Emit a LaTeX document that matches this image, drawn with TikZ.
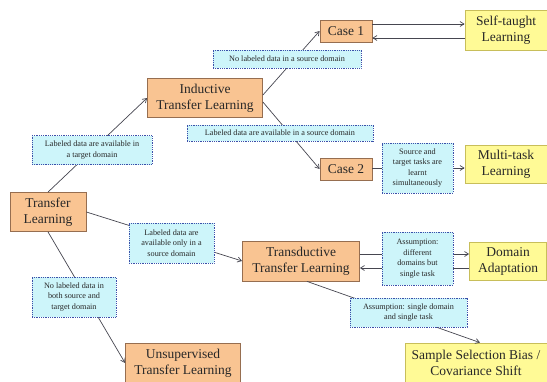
\documentclass[tikz,border=0pt]{standalone}
\usepackage{fontspec}
\setmainfont{Liberation Serif}
\usetikzlibrary{arrows.meta}
\definecolor{orbox}{RGB}{249,196,146}
\definecolor{orline}{RGB}{150,110,80}
\definecolor{yebox}{RGB}{255,250,150}
\definecolor{yeline}{RGB}{200,190,90}
\definecolor{cybox}{RGB}{205,245,250}
\definecolor{cyline}{RGB}{60,80,170}
\definecolor{txt}{RGB}{40,40,40}
\definecolor{edge}{RGB}{70,70,80}
\tikzset{
  mainbox/.style={draw=orline, fill=orbox, line width=0.8pt, inner sep=0pt, align=center,
    text=txt, font=\fontsize{13.5}{16}\selectfont},
  ybox/.style={draw=yeline, fill=yebox, line width=0.8pt, inner sep=0pt, align=center,
    text=txt, font=\fontsize{13.5}{16}\selectfont},
  lbl/.style={draw=cyline, densely dotted, fill=cybox, line width=0.8pt, inner sep=0pt, align=center,
    text=txt, font=\fontsize{8.2}{10.5}\selectfont},
  conn/.style={draw=edge, line width=0.7pt, -{Straight Barb[length=4pt,width=5pt]}}
}
\begin{document}
\begin{tikzpicture}[x=1pt,y=-1pt]
\useasboundingbox (0,0) rectangle (547,381);
% main nodes
\node[mainbox, minimum width=76pt, minimum height=39pt] (tl) at (48,212) {Transfer\\Learning};
\node[mainbox, minimum width=115pt, minimum height=39pt] (ind) at (205,98) {Inductive\\Transfer Learning};
\node[mainbox, minimum width=52pt, minimum height=22pt] (c1) at (346,31) {Case 1};
\node[mainbox, minimum width=52pt, minimum height=22pt] (c2) at (346,169) {Case 2};
\node[ybox, minimum width=82pt, minimum height=40pt] (st) at (506,30) {Self-taught\\Learning};
\node[ybox, minimum width=82pt, minimum height=38pt] (mt) at (506,164) {Multi-task\\Learning};
\node[mainbox, minimum width=117pt, minimum height=40pt] (tr) at (301,261) {Transductive\\Transfer Learning};
\node[ybox, minimum width=77pt, minimum height=38pt] (da) at (508,261) {Domain\\Adaptation};
\node[ybox, minimum width=142pt, minimum height=40pt] (ss) at (476,363) {Sample Selection Bias /\\Covariance Shift};
\node[mainbox, minimum width=115pt, minimum height=40pt] (un) at (183,363) {Unsupervised\\Transfer Learning};
% connectors
\draw[conn] (tl.north) -- (ind.west);
\draw[conn] (ind.east |- 0,95) -- (c1.west);
\draw[conn] (ind.east |- 0,102) -- (c2.west);
\draw[conn] (c1.east |- 0,24) -- (st.west |- 0,24);
\draw[conn] (st.west |- 0,38) -- (c1.east |- 0,38);
\draw[conn] (c2.east |- 0,168) -- (mt.west |- 0,168);
\draw[conn] (tl.east) -- (tr.west);
\draw[conn] (tl.south) -- (un.west);
\draw[conn] (tr.east |- 0,254) -- (da.west |- 0,254);
\draw[conn] (da.west |- 0,268) -- (tr.east |- 0,268);
\draw[conn] ([xshift=6pt]tr.south) -- ([xshift=4pt]ss.north);
% labels
\node[lbl, minimum width=120pt, minimum height=29pt] (l1) at (92,150) {Labeled data are available in\\a target domain};
\node[lbl, minimum width=148pt, minimum height=18pt] (l2) at (287,59) {No labeled data in a source domain};
\node[lbl, minimum width=186pt, minimum height=16pt] (l3) at (280,133) {Labeled data are available in a source domain};
\node[lbl, minimum width=71pt, minimum height=50pt] (l4) at (417.5,168) {Source and\\target tasks are\\learnt\\simultaneously};
\node[lbl, minimum width=85pt, minimum height=40pt] (l5) at (171.5,243) {Labeled data are\\available only in a\\source domain};
\node[lbl, minimum width=84pt, minimum height=40pt] (l6) at (74,297) {No labeled data in\\both source and\\target domain};
\node[lbl, minimum width=71pt, minimum height=53pt] (l7) at (417.5,258.5) {Assumption:\\different\\domains but\\single task};
\node[lbl, minimum width=117pt, minimum height=29pt] (l8) at (408.5,312.5) {Assumption: single domain\\and single task};
\end{tikzpicture}
\end{document}
